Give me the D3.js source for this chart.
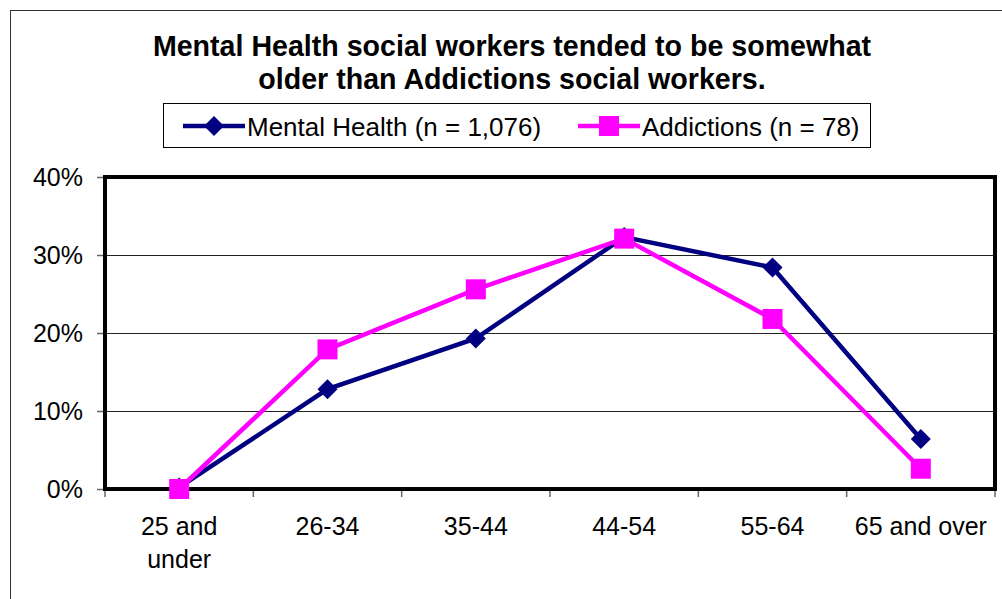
<!DOCTYPE html>
<html>
<head>
<meta charset="utf-8">
<script src="https://cdn.jsdelivr.net/npm/d3@7"></script>
<style>
  body { margin: 0; background: #fff; }
  text { font-family: Arial, "Liberation Sans", sans-serif; }
</style>
</head>
<body>
<svg id="chart" width="1002" height="599"></svg>
<script>
var categories = ["25 and\nunder", "26-34", "35-44", "44-54", "55-64", "65 and over"];
var mentalHealth = [0.2, 12.8, 19.3, 32.3, 28.4, 6.4];
var addictions = [0, 17.9, 25.6, 32.1, 21.8, 2.6];
var yTicks = [0, 10, 20, 30, 40];
var titleLines = ["Mental Health social workers tended to be somewhat", "older than Addictions social workers."];
var seriesNames = ["Mental Health (n = 1,076)", "Addictions (n = 78)"];

var navy = "#000080", magenta = "#ff00ff";

var svg = d3.select("#chart");

// outer chart border (right/bottom run off the picture)
svg.append("rect")
	.attr("x", 10.5).attr("y", 10.5)
	.attr("width", 1010).attr("height", 610)
	.style("fill", "none")
	.style("stroke", "#333")
	.style("stroke-width", 1);

var plot = {left: 105, right: 995, top: 177, bottom: 489};

var x = d3.scaleBand()
	.domain(categories)
	.range([plot.left, plot.right]);

var y = d3.scaleLinear()
	.domain([0, 40])
	.range([plot.bottom, plot.top]);

// title
svg.append("g").selectAll("text")
	.data(titleLines)
	.enter().append("text")
	.attr("x", 512)
	.attr("y", function(d, i) { return 56 + i * 33; })
	.attr("text-anchor", "middle")
	.attr("font-size", "28.6px")
	.attr("font-weight", "bold")
	.text(function(d) { return d; });

// gridlines
svg.append("g").selectAll("line")
	.data(yTicks.filter(function(d) { return d > 0 && d < 40; }))
	.enter().append("line")
	.attr("x1", plot.left).attr("x2", plot.right)
	.attr("y1", function(d) { return y(d) + 0.5; })
	.attr("y2", function(d) { return y(d) + 0.5; })
	.style("stroke", "#222")
	.style("stroke-width", 1);

// y axis
var yAxis = svg.append("g")
	.attr("transform", "translate(" + plot.left + ",0)")
	.call(d3.axisLeft(y).tickValues(yTicks).tickSize(8).tickPadding(14)
		.tickFormat(function(d) { return d + "%"; }));
yAxis.select(".domain").remove();
yAxis.selectAll(".tick line").style("stroke", "#666").style("stroke-width", 1.5);
yAxis.selectAll(".tick text")
	.attr("font-size", "25px")
	.attr("font-family", "Arial, 'Liberation Sans', sans-serif")
	.style("fill", "#000");

// x axis ticks at category boundaries
var bounds = categories.map(function(c) { return x(c); }).concat([plot.right]);
svg.append("g").selectAll("line")
	.data(bounds)
	.enter().append("line")
	.attr("x1", function(d) { return d; }).attr("x2", function(d) { return d; })
	.attr("y1", plot.bottom).attr("y2", plot.bottom + 8)
	.style("stroke", "#666")
	.style("stroke-width", 1.5);

// x labels
var xl = svg.append("g").selectAll("text")
	.data(categories)
	.enter().append("text")
	.attr("text-anchor", "middle")
	.attr("font-size", "25px")
	.attr("transform", function(d) { return "translate(" + (x(d) + x.bandwidth() / 2) + ",535)"; });
xl.selectAll("tspan")
	.data(function(d) { return d.split("\n"); })
	.enter().append("tspan")
	.attr("x", 0)
	.attr("dy", function(d, i) { return i ? 33 : 0; })
	.text(function(d) { return d; });

// plot border
svg.append("rect")
	.attr("x", plot.left).attr("y", plot.top)
	.attr("width", plot.right - plot.left).attr("height", plot.bottom - plot.top)
	.style("fill", "none")
	.style("stroke", "#000")
	.style("stroke-width", 4);

var line = d3.line()
	.x(function(d, i) { return x(categories[i]) + x.bandwidth() / 2; })
	.y(function(d) { return y(d); });

var diamond = d3.symbol().type(d3.symbolSquare).size(200);
var square = d3.symbol().type(d3.symbolSquare).size(400);

function drawSeries(values, color, marker) {
	var g = svg.append("g");
	g.append("path")
		.datum(values)
		.attr("d", line)
		.style("fill", "none")
		.style("stroke", color)
		.style("stroke-width", 4.5)
		.style("stroke-linejoin", "miter");
	g.selectAll("path.pt")
		.data(values)
		.enter().append("path")
		.attr("class", "pt")
		.attr("d", marker)
		.attr("transform", function(d, i) {
			var t = "translate(" + (x(categories[i]) + x.bandwidth() / 2) + "," + y(d) + ")";
			return marker === diamond ? t + " rotate(45)" : t;
		})
		.style("fill", color);
}

drawSeries(mentalHealth, navy, diamond);
drawSeries(addictions, magenta, square);

// legend
var legend = svg.append("g");
legend.append("rect")
	.attr("x", 163.5).attr("y", 103.5)
	.attr("width", 707).attr("height", 44)
	.style("fill", "#fff")
	.style("stroke", "#000")
	.style("stroke-width", 1);

var legendItems = [
	{name: seriesNames[0], color: navy, marker: diamond, x0: 183},
	{name: seriesNames[1], color: magenta, marker: square, x0: 578}
];
var li = legend.selectAll("g.item")
	.data(legendItems)
	.enter().append("g")
	.attr("class", "item")
	.attr("transform", function(d) { return "translate(" + d.x0 + ",126)"; });
li.append("line")
	.attr("x1", 0).attr("x2", 62)
	.style("stroke", function(d) { return d.color; })
	.style("stroke-width", 4.5);
li.append("path")
	.attr("d", function(d) { return d.marker(); })
	.attr("transform", function(d) { return "translate(31,0)" + (d.marker === diamond ? " rotate(45)" : ""); })
	.style("fill", function(d) { return d.color; });
li.append("text")
	.attr("x", 64)
	.attr("y", 10)
	.attr("font-size", "26px")
	.text(function(d) { return d.name; });
</script>
</body>
</html>
